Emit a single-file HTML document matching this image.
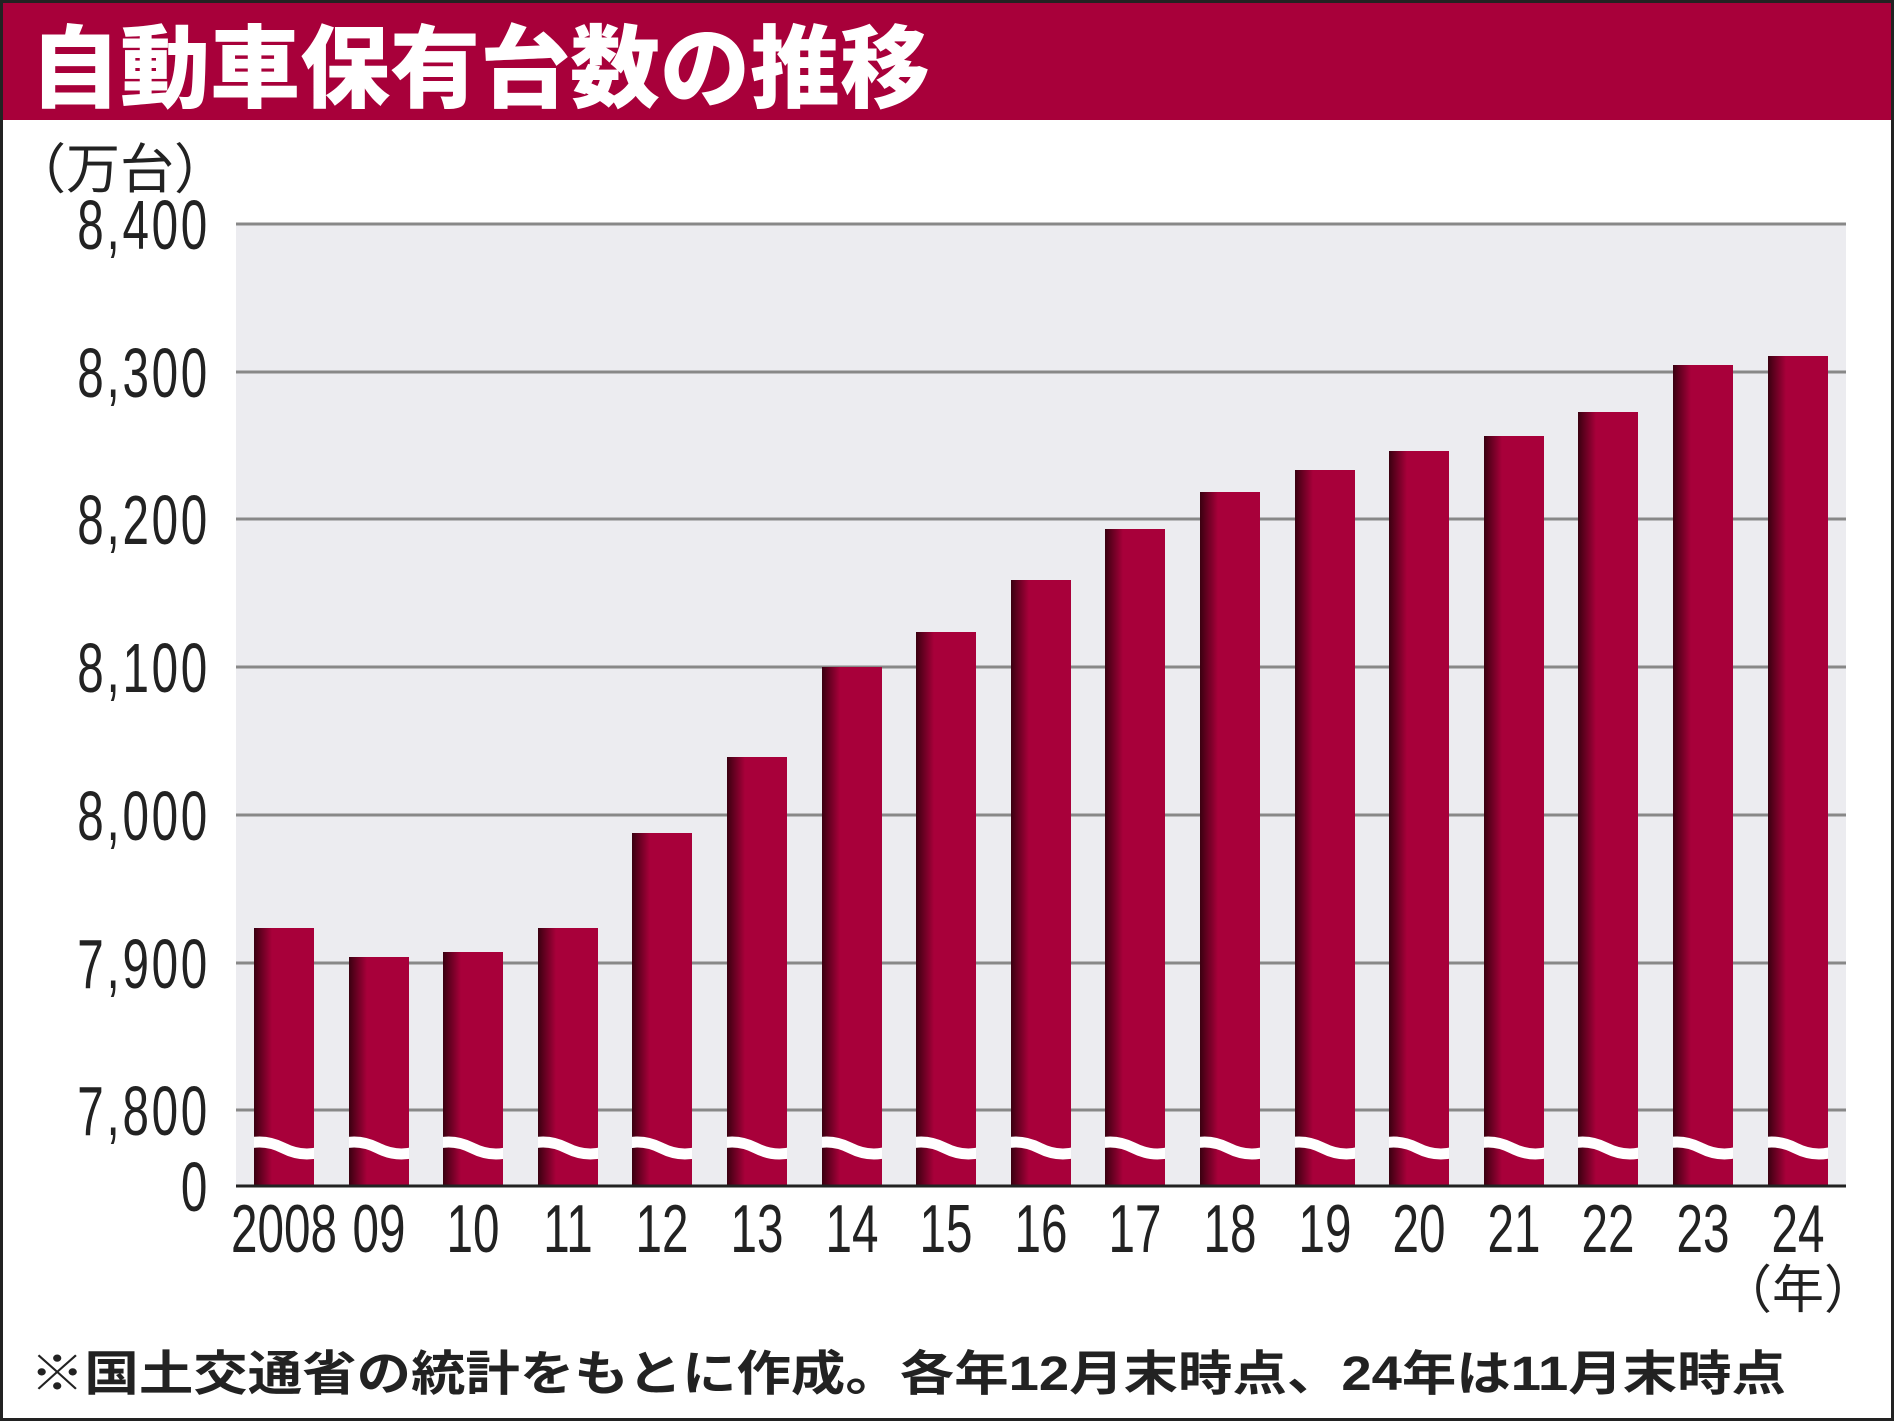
<!DOCTYPE html>
<html><head><meta charset="utf-8"><style>
html,body{margin:0;padding:0;background:#fff;}
svg{display:block;}
</style></head><body>
<svg width="1894" height="1421" viewBox="0 0 1894 1421" xmlns="http://www.w3.org/2000/svg">
<defs>
<linearGradient id="bg" x1="0" x2="1" y1="0" y2="0">
<stop offset="0" stop-color="#3a0010"/>
<stop offset="0.3" stop-color="#a8003a"/>
<stop offset="1" stop-color="#a8003a"/>
</linearGradient>
<clipPath id="bars">
<rect x="254" y="900" width="60" height="300"/>
<rect x="349" y="900" width="60" height="300"/>
<rect x="443" y="900" width="60" height="300"/>
<rect x="538" y="900" width="60" height="300"/>
<rect x="632" y="900" width="60" height="300"/>
<rect x="727" y="900" width="60" height="300"/>
<rect x="822" y="900" width="60" height="300"/>
<rect x="916" y="900" width="60" height="300"/>
<rect x="1011" y="900" width="60" height="300"/>
<rect x="1105" y="900" width="60" height="300"/>
<rect x="1200" y="900" width="60" height="300"/>
<rect x="1295" y="900" width="60" height="300"/>
<rect x="1389" y="900" width="60" height="300"/>
<rect x="1484" y="900" width="60" height="300"/>
<rect x="1578" y="900" width="60" height="300"/>
<rect x="1673" y="900" width="60" height="300"/>
<rect x="1768" y="900" width="60" height="300"/>
</clipPath>
</defs>
<rect x="0" y="0" width="1894" height="1421" fill="#fff"/>
<rect x="0" y="0" width="1894" height="120" fill="#a8003a"/>
<text x="30" y="100" font-family="'Noto Sans CJK JP', sans-serif" font-weight="900" font-size="90" fill="#fff">自動車保有台数の推移</text>
<rect x="236" y="224" width="1610" height="962" fill="#ececf0"/>
<g stroke="#888" stroke-width="3">
<line x1="236" x2="1846" y1="224" y2="224"/>
<line x1="236" x2="1846" y1="372" y2="372"/>
<line x1="236" x2="1846" y1="519" y2="519"/>
<line x1="236" x2="1846" y1="667" y2="667"/>
<line x1="236" x2="1846" y1="815" y2="815"/>
<line x1="236" x2="1846" y1="963" y2="963"/>
<line x1="236" x2="1846" y1="1110" y2="1110"/>
</g>
<g fill="url(#bg)">
<rect x="254" y="928" width="60" height="258"/>
<rect x="349" y="957" width="60" height="229"/>
<rect x="443" y="952" width="60" height="234"/>
<rect x="538" y="928" width="60" height="258"/>
<rect x="632" y="833" width="60" height="353"/>
<rect x="727" y="757" width="60" height="429"/>
<rect x="822" y="667" width="60" height="519"/>
<rect x="916" y="632" width="60" height="554"/>
<rect x="1011" y="580" width="60" height="606"/>
<rect x="1105" y="529" width="60" height="657"/>
<rect x="1200" y="492" width="60" height="694"/>
<rect x="1295" y="470" width="60" height="716"/>
<rect x="1389" y="451" width="60" height="735"/>
<rect x="1484" y="436" width="60" height="750"/>
<rect x="1578" y="412" width="60" height="774"/>
<rect x="1673" y="365" width="60" height="821"/>
<rect x="1768" y="356" width="60" height="830"/>
</g>
<g clip-path="url(#bars)">
<path d="M236 1148 q23.6 -12 47.25 0 t47.25 0 t47.25 0 t47.25 0 t47.25 0 t47.25 0 t47.25 0 t47.25 0 t47.25 0 t47.25 0 t47.25 0 t47.25 0 t47.25 0 t47.25 0 t47.25 0 t47.25 0 t47.25 0 t47.25 0 t47.25 0 t47.25 0 t47.25 0 t47.25 0 t47.25 0 t47.25 0 t47.25 0 t47.25 0 t47.25 0 t47.25 0 t47.25 0 t47.25 0 t47.25 0 t47.25 0 t47.25 0 t47.25 0 t47.25 0" fill="none" stroke="#fff" stroke-width="11"/>
</g>
<line x1="236" x2="1846" y1="1186" y2="1186" stroke="#222" stroke-width="3"/>
<g font-family="'Liberation Sans', sans-serif" font-size="70" fill="#222" text-anchor="end" letter-spacing="4">
<text transform="translate(210,249) scale(0.68,1)">8,400</text>
<text transform="translate(210,397) scale(0.68,1)">8,300</text>
<text transform="translate(210,544) scale(0.68,1)">8,200</text>
<text transform="translate(210,692) scale(0.68,1)">8,100</text>
<text transform="translate(210,840) scale(0.68,1)">8,000</text>
<text transform="translate(210,988) scale(0.68,1)">7,900</text>
<text transform="translate(210,1135) scale(0.68,1)">7,800</text>
<text transform="translate(210,1211) scale(0.68,1)">0</text>
</g>
<g font-family="'Liberation Sans', sans-serif" font-size="68" fill="#222" text-anchor="middle">
<text transform="translate(284,1252) scale(0.7,1)">2008</text>
<text transform="translate(379,1252) scale(0.7,1)">09</text>
<text transform="translate(473,1252) scale(0.7,1)">10</text>
<text transform="translate(568,1252) scale(0.7,1)">11</text>
<text transform="translate(662,1252) scale(0.7,1)">12</text>
<text transform="translate(757,1252) scale(0.7,1)">13</text>
<text transform="translate(852,1252) scale(0.7,1)">14</text>
<text transform="translate(946,1252) scale(0.7,1)">15</text>
<text transform="translate(1041,1252) scale(0.7,1)">16</text>
<text transform="translate(1135,1252) scale(0.7,1)">17</text>
<text transform="translate(1230,1252) scale(0.7,1)">18</text>
<text transform="translate(1325,1252) scale(0.7,1)">19</text>
<text transform="translate(1419,1252) scale(0.7,1)">20</text>
<text transform="translate(1514,1252) scale(0.7,1)">21</text>
<text transform="translate(1608,1252) scale(0.7,1)">22</text>
<text transform="translate(1703,1252) scale(0.7,1)">23</text>
<text transform="translate(1798,1252) scale(0.7,1)">24</text>
</g>
<text x="1798" y="1308" text-anchor="middle" font-family="'Liberation Sans','Noto Sans CJK JP', sans-serif" font-size="52" fill="#222">（年）</text>
<text x="120" y="188" text-anchor="middle" font-family="'Liberation Sans','Noto Sans CJK JP', sans-serif" font-size="54" fill="#222">（万台）</text>
<text x="30" y="1390" font-family="'Liberation Sans','Noto Sans CJK JP', sans-serif" font-size="48" font-weight="700" fill="#222" textLength="1756" lengthAdjust="spacingAndGlyphs">※国土交通省の統計をもとに作成。各年12月末時点、24年は11月末時点</text>
<rect x="1.5" y="1.5" width="1891" height="1418" fill="none" stroke="#222" stroke-width="3"/>
</svg>
</body></html>
